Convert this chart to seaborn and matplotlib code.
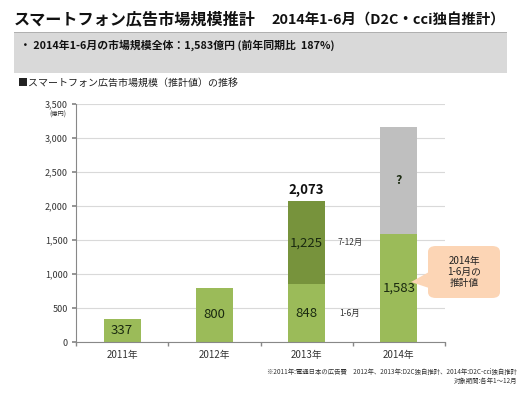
import matplotlib
matplotlib.use("Agg")
import matplotlib.pyplot as plt
import seaborn as sns
import pandas as pd
from matplotlib.patches import FancyBboxPatch, Rectangle, Polygon

sns.set_theme(style="white")
plt.rcParams['font.family'] = ['Noto Sans CJK JP', 'DejaVu Sans']

years = ["2011年", "2012年", "2013年", "2014年"]
first_half = [337, 800, 848, 1583]
second_half = [0, 0, 1225, 1583]
labels_first = ["337", "800", "848", "1,583"]
labels_second = ["", "", "1,225", "?"]
total_label_2013 = "2,073"
yticks = [0, 500, 1000, 1500, 2000, 2500, 3000, 3500]

LIGHT = "#9BBB59"
DARK = "#77933C"
GRAY = "#BFBFBF"

totals = [a + b for a, b in zip(first_half, second_half)]
df = pd.DataFrame({"year": years, "h1": first_half, "total": totals})

W, H = 529, 397
fig = plt.figure(figsize=(W / 100, H / 100), dpi=100)

def fx(x):
    return x / W

def fy(y):
    return 1 - y / H

# header
fig.text(fx(14), fy(19), "スマートフォン広告市場規模推計", fontsize=11.6, fontweight="bold",
         va="center", ha="left", color="#111111")
fig.text(fx(271), fy(20), "2014年1-6月（D2C・cci独自推計）", fontsize=10.4, fontweight="bold",
         va="center", ha="left", color="#111111")
fig.patches.append(Rectangle((fx(14), fy(73)), fx(493), (73 - 32) / H, transform=fig.transFigure,
                             facecolor="#D9D9D9", edgecolor="none", zorder=0))
fig.patches.append(Rectangle((fx(14), fy(33)), fx(493), 1.0 / H, transform=fig.transFigure,
                             facecolor="#B0B0B0", edgecolor="none", zorder=1))
fig.text(fx(20), fy(45), "・ 2014年1-6月の市場規模全体：1,583億円 (前年同期比  187%)", fontsize=7.8,
         fontweight="bold", va="center", ha="left", color="#111111")
fig.text(fx(18), fy(83), "■スマートフォン広告市場規模（推計値）の推移", fontsize=7.2,
         va="center", ha="left", color="#222222")

ax = fig.add_axes([fx(76), fy(342), fx(445 - 76), (342 - 104) / H])

pal_total = [LIGHT, LIGHT, DARK, GRAY]
sns.barplot(data=df, x="year", y="total", hue="year", palette=pal_total, legend=False,
            width=0.4, ax=ax, saturation=1, edgecolor="none")
sns.barplot(data=df, x="year", y="h1", color=LIGHT, width=0.4, ax=ax, saturation=1,
            edgecolor="none")

ax.set_ylim(0, 3500)
ax.set_xlim(-0.5, 3.5)
ax.set_yticks(yticks)
ax.set_yticklabels([f"{v:,}" for v in yticks], fontsize=6.5, color="#333333")
ax.set_xlabel("")
ax.set_ylabel("")
ax.tick_params(axis="x", labelsize=7, colors="#333333", length=0, pad=6)
ax.tick_params(axis="y", length=3, color="#888888", pad=3, left=True)
ax.grid(axis="y", color="#D9D9D9", linewidth=0.8)
ax.set_axisbelow(True)
for s in ["top", "right"]:
    ax.spines[s].set_visible(False)
for s in ["left", "bottom"]:
    ax.spines[s].set_color("#888888")
    ax.spines[s].set_linewidth(0.8)
ax.set_xticks([-0.5, 0.5, 1.5, 2.5, 3.5], minor=True)
ax.tick_params(axis="x", which="minor", length=3, color="#888888", bottom=True)

for i in range(len(years)):
    ax.text(i, first_half[i] / 2, labels_first[i], ha="center", va="center",
            fontsize=9.5, color="#1A2A10")
    if second_half[i]:
        ax.text(i, first_half[i] + second_half[i] / 2, labels_second[i], ha="center",
                va="center", fontsize=9.5 if labels_second[i] != "?" else 9,
                color="#1A2A10", fontweight="normal" if labels_second[i] != "?" else "bold")

ax.text(2, totals[2] + 60, total_label_2013, ha="center", va="bottom", fontsize=9.5,
        fontweight="bold", color="#111111")
ax.text(2.33, first_half[2] + second_half[2] / 2, "7-12月", ha="left", va="center",
        fontsize=6, color="#333333")
ax.text(2.35, first_half[2] / 2, "1-6月", ha="left", va="center", fontsize=6,
        color="#333333")

fig.text(fx(58), fy(115), "(億円)", fontsize=4.5, ha="center", va="center", color="#333333")

# callout
box = FancyBboxPatch((fx(428), fy(298)), fx(72), (298 - 246) / H,
                     boxstyle="round,pad=0,rounding_size=0.015", transform=fig.transFigure,
                     facecolor="#FCD5B5", edgecolor="none", zorder=5)
fig.patches.append(box)
tri = Polygon([[fx(429), fy(272)], [fx(411), fy(282)], [fx(429), fy(288)]], closed=True,
              transform=fig.transFigure, facecolor="#FCD5B5", edgecolor="none", zorder=5)
fig.patches.append(tri)
fig.text(fx(464), fy(272), "2014年\n1-6月の\n推計値", fontsize=7, ha="center", va="center",
         color="#222222", linespacing=1.1, zorder=6)

fig.text(fx(517), fy(372), "※2011年:電通日本の広告費　2012年、2013年:D2C独自推計、2014年:D2C-cci独自推計",
         fontsize=4.6, ha="right", va="center", color="#333333")
fig.text(fx(517), fy(381), "対象期間:各年1～12月", fontsize=4.6, ha="right", va="center",
         color="#333333")

fig.savefig("out.png", dpi=100)
